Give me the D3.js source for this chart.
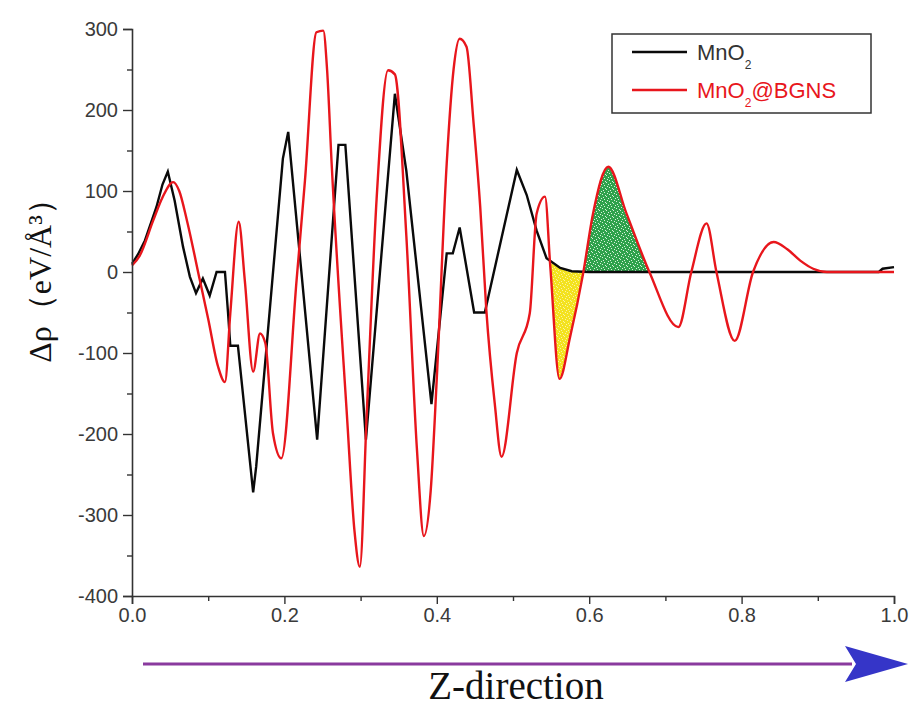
<!DOCTYPE html>
<html>
<head>
<meta charset="utf-8">
<script src="https://cdn.jsdelivr.net/npm/d3@7"></script>
<style>
  html, body { margin: 0; padding: 0; background: #fff; }
  svg { display: block; }
</style>
</head>
<body>
<svg id="chart" width="909" height="707"></svg>
<script>
// ---- data ----
const seriesNames = ["MnO\u2082", "MnO\u2082@BGNS"];

const mno2X = [0.000, 0.008, 0.017, 0.032, 0.040, 0.047, 0.056, 0.067, 0.076, 0.084, 0.093, 0.102, 0.111, 0.122, 0.126, 0.129, 0.139, 0.159, 0.163, 0.198, 0.205, 0.243, 0.271, 0.280, 0.307, 0.345, 0.360, 0.393, 0.413, 0.421, 0.430, 0.449, 0.463, 0.505, 0.518, 0.531, 0.544, 0.562, 0.577, 0.600, 0.980, 0.985, 1.000];
const mno2Y = [10, 22, 39, 80, 108, 124, 88, 31, -6, -26, -8, -29, 0, 0, -50, -91, -91, -272, -240, 140, 173, -207, 157, 157, -207, 220, 125, -163, 23, 23, 55, -50, -50, 126, 95, 51, 17, 5, 1, 0, 0, 4, 6];

const bgnsX = [0.000, 0.010, 0.028, 0.040, 0.054, 0.062, 0.072, 0.089, 0.100, 0.113, 0.122, 0.129, 0.140, 0.148, 0.159, 0.168, 0.175, 0.185, 0.196, 0.216, 0.227, 0.242, 0.251, 0.256, 0.262, 0.282, 0.292, 0.299, 0.308, 0.321, 0.336, 0.345, 0.360, 0.374, 0.383, 0.392, 0.400, 0.413, 0.422, 0.430, 0.439, 0.448, 0.457, 0.465, 0.476, 0.485, 0.505, 0.522, 0.531, 0.542, 0.549, 0.561, 0.575, 0.592, 0.605, 0.625, 0.649, 0.679, 0.717, 0.734, 0.754, 0.767, 0.791, 0.815, 0.842, 0.860, 0.877, 0.894, 0.912, 1.000];
const bgnsY = [8, 20, 64, 92, 111, 100, 64, -10, -58, -117, -136, -51, 62, -10, -123, -76, -88, -199, -230, -10, 113, 296, 298, 250, 134, -176, -320, -364, -176, 90, 249, 244, 45, -220, -326, -270, -131, 134, 250, 288, 278, 187, 80, -47, -162, -228, -100, -51, 72, 93, 6, -132, -80, -2, 72, 130, 72, 0, -68, 0, 60, 0, -85, 0, 37, 28, 14, 4, 0, 0];

const yTicks = [-400, -300, -200, -100, 0, 100, 200, 300];
const yMinorTicks = [-350, -250, -150, -50, 50, 150, 250];
const xTicks = [0.0, 0.2, 0.4, 0.6, 0.8, 1.0];
const xMinorTicks = [0.1, 0.3, 0.5, 0.7, 0.9];

const yellowRange = [0.549, 0.592];
const greenRange = [0.592, 0.679];

const mno2 = mno2X.map((x, i) => ({x, y: mno2Y[i]}));
const bgns = bgnsX.map((x, i) => ({x, y: bgnsY[i]}));

// ---- layout ----
const svg = d3.select("#chart");
const x = d3.scaleLinear().domain([0, 1]).range([132, 894]);
const y = d3.scaleLinear().domain([-400, 300]).range([596, 29]);

const defs = svg.append("defs");

// speckled patterns
function speckle(id, base, dot) {
  const p = defs.append("pattern").attr("id", id).attr("patternUnits", "userSpaceOnUse")
    .attr("width", 7).attr("height", 7);
  p.append("rect").attr("width", 7).attr("height", 7).attr("fill", base);
  const pts = [[1,1],[4,0],[2,3],[5,4],[0,5],[3,6],[6,2]];
  pts.forEach(([a,b]) => p.append("rect").attr("x", a).attr("y", b).attr("width", 1).attr("height", 1).attr("fill", dot));
}
speckle("yel", "#f3e21f", "#fbf3a0");
speckle("grn", "#2ea24c", "#d8f0dc");

const redCurve = d3.curveMonotoneX;
const blackCurve = d3.curveLinear;

defs.append("clipPath").attr("id", "belowBlack").append("path")
  .attr("d", d3.area().x(d => x(d.x)).y0(y(-400)).y1(d => y(d.y)).curve(blackCurve)(mno2));
defs.append("clipPath").attr("id", "aboveBlack").append("path")
  .attr("d", d3.area().x(d => x(d.x)).y0(y(300)).y1(d => y(d.y)).curve(blackCurve)(mno2));
defs.append("clipPath").attr("id", "yelRange").append("rect")
  .attr("x", x(yellowRange[0])).attr("width", x(yellowRange[1]) - x(yellowRange[0]))
  .attr("y", 0).attr("height", 707);
defs.append("clipPath").attr("id", "grnRange").append("rect")
  .attr("x", x(greenRange[0])).attr("width", x(greenRange[1]) - x(greenRange[0]))
  .attr("y", 0).attr("height", 707);

// yellow: above red, below black
svg.append("g").attr("clip-path", "url(#yelRange)")
  .append("g").attr("clip-path", "url(#belowBlack)")
  .append("path")
  .attr("d", d3.area().x(d => x(d.x)).y0(y(300)).y1(d => y(d.y)).curve(redCurve)(bgns))
  .attr("fill", "url(#yel)");

// green: below red, above black
svg.append("g").attr("clip-path", "url(#grnRange)")
  .append("g").attr("clip-path", "url(#aboveBlack)")
  .append("path")
  .attr("d", d3.area().x(d => x(d.x)).y0(y(-400)).y1(d => y(d.y)).curve(redCurve)(bgns))
  .attr("fill", "url(#grn)");

// lines
svg.append("path")
  .attr("d", d3.line().x(d => x(d.x)).y(d => y(d.y)).curve(blackCurve)(mno2))
  .attr("fill", "none").attr("stroke", "#0a0a0a").attr("stroke-width", 2.4)
  .attr("stroke-linejoin", "miter");
svg.append("path")
  .attr("d", d3.line().x(d => x(d.x)).y(d => y(d.y)).curve(redCurve)(bgns))
  .attr("fill", "none").attr("stroke", "#e8161c").attr("stroke-width", 2.4);

// axes
const axisColor = "#333";
const labelFont = "'Liberation Sans', Arial, sans-serif";

const yAxis = svg.append("g").attr("transform", `translate(${x(0)},0)`)
  .call(d3.axisLeft(y).tickValues(yTicks).tickSize(9).tickPadding(5).tickFormat(d => String(d)));
const yMinor = svg.append("g").attr("transform", `translate(${x(0)},0)`)
  .call(d3.axisLeft(y).tickValues(yMinorTicks).tickSize(5).tickFormat(""));
const xAxis = svg.append("g").attr("transform", `translate(0,${y(-400)})`)
  .call(d3.axisBottom(x).tickValues(xTicks).tickSize(8).tickPadding(4).tickFormat(d => d.toFixed(1)));
const xMinor = svg.append("g").attr("transform", `translate(0,${y(-400)})`)
  .call(d3.axisBottom(x).tickValues(xMinorTicks).tickSize(5).tickFormat(""));

[yAxis, yMinor, xAxis, xMinor].forEach(g => {
  g.select(".domain").attr("stroke", axisColor).attr("stroke-width", 1.6);
  g.selectAll(".tick line").attr("stroke", axisColor).attr("stroke-width", 1.4);
  g.selectAll(".tick text").attr("fill", "#3a3a3a").style("font-family", labelFont).style("font-size", "20px");
});
yMinor.select(".domain").remove();
xMinor.select(".domain").remove();

// y label
svg.append("text")
  .attr("transform", "translate(51,273) rotate(-90)")
  .attr("text-anchor", "middle")
  .style("font-family", "'Liberation Serif', 'Times New Roman', serif")
  .style("font-size", "32px")
  .attr("fill", "#111")
  .text("\u0394\u03c1\uff08eV/\u00c5\u00b3\uff09");

// legend
const lg = svg.append("g");
lg.append("rect").attr("x", 612).attr("y", 34).attr("width", 259).attr("height", 79)
  .attr("fill", "#fff").attr("stroke", "#333").attr("stroke-width", 1.5);
const legendItems = [
  {name: "MnO", sub: "2", rest: "", color: "#0a0a0a", text: "#333", y: 52},
  {name: "MnO", sub: "2", rest: "@BGNS", color: "#e8161c", text: "#e8161c", y: 90}
];
legendItems.forEach(it => {
  lg.append("line").attr("x1", 632).attr("x2", 687).attr("y1", it.y).attr("y2", it.y)
    .attr("stroke", it.color).attr("stroke-width", 2.4);
  const t = lg.append("text").attr("x", 697).attr("y", it.y + 8)
    .style("font-family", labelFont).style("font-size", "22px").attr("fill", it.text);
  t.append("tspan").text(it.name);
  t.append("tspan").attr("dy", 9).style("font-size", "12px").text(it.sub);
  if (it.rest) t.append("tspan").attr("dy", -9).text(it.rest);
});

// arrow
svg.append("line").attr("x1", 143).attr("x2", 852).attr("y1", 664).attr("y2", 664)
  .attr("stroke", "#8a3a9e").attr("stroke-width", 3);
svg.append("polygon")
  .attr("points", "845,646 908,664 845,682 856,664")
  .attr("fill", "#3535c8");

// x label
svg.append("text")
  .attr("x", 516).attr("y", 699)
  .attr("text-anchor", "middle")
  .style("font-family", "'Liberation Serif', 'Times New Roman', serif")
  .style("font-size", "39px")
  .attr("fill", "#111")
  .text("Z-direction");
</script>
</body>
</html>
